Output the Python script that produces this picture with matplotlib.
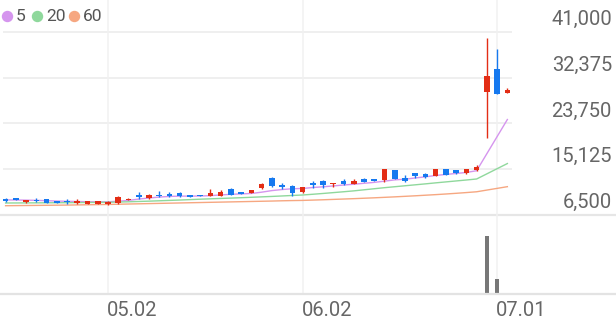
import matplotlib
matplotlib.use("Agg")
import matplotlib.pyplot as plt
import matplotlib.transforms as mtransforms
from matplotlib.lines import Line2D

# ---------------- data ----------------
dates = ["04.17", "04.18", "04.21", "04.22", "04.23", "04.24", "04.25", "04.28", "04.29", "04.30",
         "05.02", "05.07", "05.08", "05.09", "05.12", "05.13", "05.14", "05.15", "05.16", "05.19",
         "05.20", "05.21", "05.22", "05.23", "05.26", "05.27", "05.28", "05.29", "05.30",
         "06.02", "06.04", "06.05", "06.09", "06.10", "06.11", "06.12", "06.13", "06.16", "06.17",
         "06.18", "06.19", "06.20", "06.23", "06.24", "06.25", "06.26", "06.27", "06.30",
         "07.01", "07.02"]

opens = [9500, 9650, 8900, 9330, 9520, 9080, 9200, 8710, 8570, 8580,
         8570, 8710, 9270, 10330, 9700, 10330, 10520, 10650, 10270, 10270,
         10140, 10140, 11460, 10840, 10700, 11590, 13530, 12160, 12020,
         10780, 12480, 12970, 12400, 12850, 12400, 13340, 13340, 13050, 14980,
         13530, 14360, 14170, 13850, 15120, 14980, 14360, 14980, 29630,
         33970, 29590]
highs = [9700, 9700, 9300, 9650, 9600, 9100, 9570, 9460, 9100, 9100,
         9080, 10080, 9620, 10840, 10400, 10970, 10890, 10840, 10300, 10300,
         11350, 11210, 11500, 10850, 11300, 12590, 13600, 12480, 12160,
         11840, 12970, 13100, 12600, 13230, 13290, 13400, 13380, 15150, 15000,
         14040, 14400, 14480, 15200, 15150, 15000, 15250, 15980, 39950,
         37740, 30410]
lows = [8950, 9250, 8760, 9010, 8800, 8800, 8570, 8570, 8550, 8560,
        8450, 8520, 9250, 9460, 9520, 9840, 9950, 9840, 9900, 10050,
        10080, 10100, 10300, 10500, 10680, 11350, 11840, 11460, 10140,
        10590, 11590, 11650, 11720, 12100, 12350, 12700, 12950, 12660, 13200,
        12660, 13480, 13480, 13800, 14050, 14300, 14300, 14870, 20950,
        29310, 29590]
closes = [9150, 9270, 9270, 9140, 8820, 8820, 8900, 9200, 9080, 9080,
          9010, 9950, 9570, 9840, 10210, 10080, 10080, 10030, 9950, 10080,
          10590, 10840, 10330, 10520, 11270, 12290, 11970, 11720, 10700,
          11720, 12100, 12100, 12590, 12290, 12910, 12720, 12970, 15120, 13230,
          12970, 13850, 13720, 15170, 14100, 14360, 15170, 15550, 32760,
          29310, 30040]

ma5 = [9350, 9330, 9300, 9260, 9200, 9130, 9080, 9040, 9000, 8980,
       8990, 9100, 9250, 9500, 9700, 9880, 10000, 10060, 10060, 10080,
       10150, 10280, 10400, 10480, 10560, 10800, 11100, 11300, 11450,
       11500, 11680, 11820, 11980, 12150, 12300, 12480, 12650, 12880, 13120,
       13250, 13480, 13700, 13950, 14150, 14330, 14520, 14850, None,
       None, 24500]
ma20 = [8760, 8770, 8780, 8790, 8800, 8810, 8820, 8840, 8860, 8880,
        8900, 8940, 8990, 9050, 9110, 9180, 9250, 9320, 9400, 9480,
        9550, 9620, 9690, 9760, 9840, 9920, 10000, 10090, 10180,
        10270, 10410, 10560, 10720, 10880, 11050, 11250, 11450, 11650, 11830,
        12010, 12190, 12370, 12560, 12740, 12920, 13100, 13290, None,
        None, 16200]
ma60 = [8250, 8270, 8290, 8310, 8330, 8350, 8370, 8400, 8430, 8460,
        8490, 8530, 8570, 8610, 8650, 8690, 8730, 8770, 8810, 8850,
        8890, 8930, 8970, 9010, 9050, 9090, 9130, 9180, 9220,
        9250, 9310, 9370, 9440, 9510, 9580, 9660, 9740, 9830, 9920,
        10020, 10120, 10230, 10340, 10460, 10590, 10730, 10880, None,
        None, 11840]

volumes = [21000, 18000, 15000, 12000, 17000, 14000, 16000, 19000, 13000, 12000,
           15000, 32000, 18000, 26000, 20000, 17000, 15000, 16000, 12000, 11000,
           24000, 22000, 25000, 14000, 19000, 30000, 35000, 21000, 26000,
           22000, 20000, 24000, 15000, 17000, 16000, 18000, 13000, 38000, 30000,
           22000, 18000, 16000, 28000, 20000, 15000, 19000, 24000, 7350000,
           1940000, 0]

price_ticks = [6500, 15125, 23750, 32375, 41000]
date_ticks = ["05.02", "06.02", "07.01"]

ma_labels = ["5", "20", "60"]
ma_colors = ["#d595ee", "#8fd89c", "#f6a781"]

# ---------------- style ----------------
UP = "#e32d15"
DOWN = "#1679ef"
VOLC = "#777777"
GRID = "#eeeeee"
TXT = "#666666"

W, H = 616, 321
plt.rcParams['font.family'] = ['Roboto', 'DejaVu Sans']
fig = plt.figure(figsize=(W / 100, H / 100), dpi=100)


def px_rect(x0, y0, x1, y1):
    return [x0 / W, 1 - y1 / H, (x1 - x0) / W, (y1 - y0) / H]


ax = fig.add_axes(px_rect(0, 0, W, 215))
axv = fig.add_axes(px_rect(0, 215, W, 294))

# x geometry: first candle at 5.6px, spacing 10.24 px
x0px, step = 5.6, 10.24
xl = (-x0px / step, (W - x0px) / step)
for a in (ax, axv):
    a.set_xlim(*xl)
    a.set_facecolor("none")
    for s in a.spines.values():
        s.set_visible(False)
    a.set_xticks([])
    a.set_yticks([])

# price y geometry: 6500 at 215px, 41000 at 32px
ppx = (41000 - 6500) / (215 - 32)
ax.set_ylim(6500, 6500 + 215 * ppx)

n = len(dates)
xs = list(range(n))
grid_right = (512 - x0px) / step
grid_left = (3 - x0px) / step

# horizontal gridlines
ax.hlines(price_ticks[1:], grid_left, grid_right, colors=GRID, lw=1.3, zorder=0)
ax.axhline(6500, color="#e6e6e6", lw=1.6, zorder=0, clip_on=False)

# vertical gridlines
tick_idx = [dates.index(d) for d in date_ticks]
for t in tick_idx:
    ax.axvline(t, color="#f1f1f1", lw=1.1, zorder=0)
    axv.axvline(t, color="#f1f1f1", lw=1.1, zorder=0)

# moving averages
for vals, col in zip([ma5, ma20, ma60], ma_colors):
    px_ = [i for i, v in enumerate(vals) if v is not None]
    py_ = [v for v in vals if v is not None]
    ax.plot(px_, py_, color=col, lw=1.0, zorder=2, solid_joinstyle="round")

# candles
cols = [UP if c >= o else DOWN for o, c in zip(opens, closes)]
ax.vlines(xs, lows, highs, colors=cols, lw=1.0, zorder=3)
bottoms = [min(o, c) for o, c in zip(opens, closes)]
heights = [max(abs(c - o), 60) for o, c in zip(opens, closes)]
ax.bar(xs, heights, bottom=bottoms, width=0.55, color=cols, lw=0, zorder=4)

# volume
axv.bar(xs, volumes, width=0.4, color=VOLC, lw=0, zorder=2)
axv.set_ylim(0, max(volumes) * 79 / 58)
axv.axhline(0, color="#e3e3e3", lw=1.6, zorder=3, clip_on=False)

# y labels (above gridlines, right aligned)
tr = mtransforms.blended_transform_factory(ax.transAxes, ax.transData)
tr = mtransforms.offset_copy(tr, fig=fig, x=0, y=7, units="dots")
for p in price_ticks:
    ax.text(612 / W, p, f"{p:,}", transform=tr, ha="right", va="baseline",
            fontsize=14.5, color=TXT, clip_on=False)

# x labels
trx = mtransforms.blended_transform_factory(axv.transData, axv.transAxes)
trx = mtransforms.offset_copy(trx, fig=fig, x=-1, y=-22, units="dots")
for t, lab in zip(tick_idx, date_ticks):
    axv.text(t, 0, lab, transform=trx, ha="left", va="baseline",
             fontsize=14.5, color=TXT, clip_on=False)

# legend
leg_dots = [6.5, 37, 74]
leg_txt = [15.5, 46.5, 83]
for lab, col, dx, tx in zip(ma_labels, ma_colors, leg_dots, leg_txt):
    fig.add_artist(Line2D([dx / W], [1 - 15.5 / H], marker="o", markersize=7.2,
                          color=col, lw=0, transform=fig.transFigure))
    fig.text(tx / W, 1 - 21 / H, lab, ha="left", va="baseline",
             fontsize=12.5, color="#555555")

fig.savefig("out.png", dpi=100)
